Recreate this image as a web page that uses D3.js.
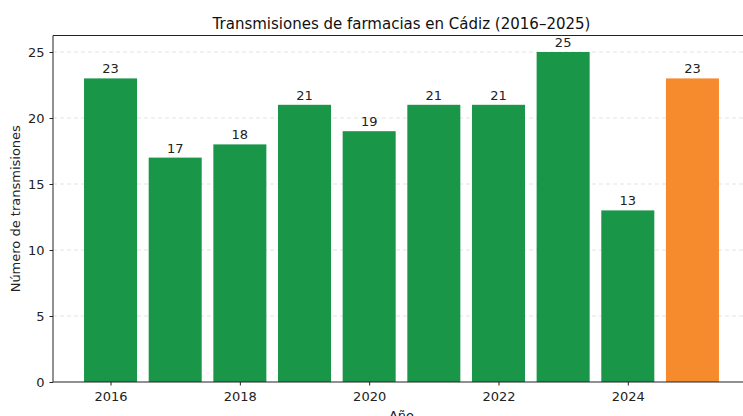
<!DOCTYPE html>
<html>
<head>
<meta charset="utf-8">
<script src="https://cdn.jsdelivr.net/npm/d3@7"></script>
<style>
  body { margin: 0; background: #fff; }
  svg { font-family: "DejaVu Sans", sans-serif; }
</style>
</head>
<body>
<svg width="743" height="416"></svg>
<script>
const years = [2016, 2017, 2018, 2019, 2020, 2021, 2022, 2023, 2024, 2025];
const counts = [23, 17, 18, 21, 19, 21, 21, 25, 13, 23];
const yTicks = [0, 5, 10, 15, 20, 25];
const xTicks = [2016, 2018, 2020, 2022, 2024];

const svg = d3.select("svg");
const margin = { left: 53, top: 35.5, right: -7, bottom: 34 };
const width = 743, height = 416;

const x = d3.scaleLinear()
  .domain([2015.11, 2025.89])
  .range([margin.left, width - margin.right]);
const y = d3.scaleLinear()
  .domain([0, 26.25])
  .range([height - margin.bottom, margin.top]);

const barW = x(2016.41) - x(2016);

// grid
svg.append("g")
  .selectAll("line")
  .data(yTicks.slice(1))
  .enter().append("line")
  .attr("x1", margin.left)
  .attr("x2", width)
  .attr("y1", d => y(d))
  .attr("y2", d => y(d))
  .attr("stroke", "#ccc")
  .attr("stroke-opacity", 0.7)
  .attr("stroke-dasharray", "4,3")
  .attr("stroke-width", 0.8);

// bars
svg.append("g")
  .selectAll("rect")
  .data(years)
  .enter().append("rect")
  .attr("x", d => x(d) - barW)
  .attr("width", barW * 2)
  .attr("y", (d, i) => y(counts[i]))
  .attr("height", (d, i) => y(0) - y(counts[i]))
  .attr("fill", d => d === 2025 ? "#f68b2d" : "#1a9649");

// value labels
svg.append("g")
  .selectAll("text")
  .data(years)
  .enter().append("text")
  .attr("x", d => x(d))
  .attr("y", (d, i) => y(counts[i]) - 5)
  .attr("text-anchor", "middle")
  .attr("font-size", 13)
  .attr("fill", "#222")
  .text((d, i) => counts[i]);

// axes
const xAxis = svg.append("g")
  .attr("transform", `translate(0,${y(0)})`)
  .call(d3.axisBottom(x).tickValues(xTicks).tickFormat(d3.format("d")).tickSize(3.5).tickPadding(6));
const yAxis = svg.append("g")
  .attr("transform", `translate(${margin.left},0)`)
  .call(d3.axisLeft(y).tickValues(yTicks).tickSize(3.5).tickPadding(5));

[xAxis, yAxis].forEach(a => {
  a.selectAll("text").attr("font-size", 13).attr("fill", "#222").attr("font-family", "DejaVu Sans");
  a.select(".domain").attr("stroke", "#222").attr("stroke-width", 1);
  a.selectAll(".tick line").attr("stroke", "#222");
});
xAxis.select(".domain").attr("d", `M${margin.left},0H${width}`);
yAxis.select(".domain").attr("d", `M0,${y(0)}V${margin.top}`);

// top spine
svg.append("line")
  .attr("x1", margin.left).attr("x2", width)
  .attr("y1", margin.top).attr("y2", margin.top)
  .attr("stroke", "#222");

// title and labels
const cx = (x.range()[0] + x.range()[1]) / 2;
svg.append("text")
  .attr("x", cx).attr("y", 28.5)
  .attr("text-anchor", "middle")
  .attr("font-size", 15)
  .attr("fill", "#111")
  .text("Transmisiones de farmacias en Cádiz (2016–2025)");

svg.append("text")
  .attr("x", cx).attr("y", 420)
  .attr("text-anchor", "middle")
  .attr("font-size", 13)
  .attr("fill", "#222")
  .text("Año");

svg.append("text")
  .attr("transform", `translate(20,${(y(0) + margin.top) / 2}) rotate(-90)`)
  .attr("text-anchor", "middle")
  .attr("font-size", 13)
  .attr("fill", "#222")
  .text("Número de transmisiones");
</script>
</body>
</html>
